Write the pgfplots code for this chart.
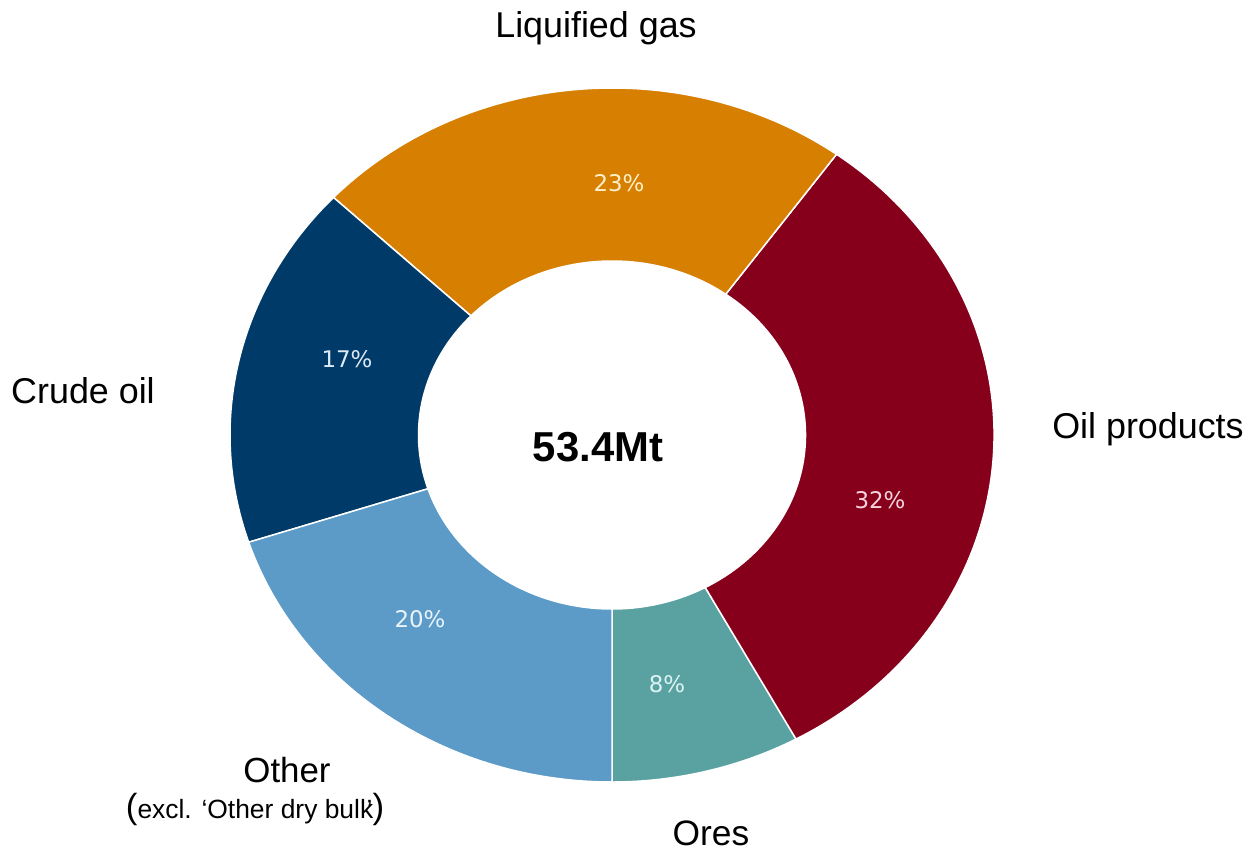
\documentclass[border=0pt]{standalone}
\usepackage{fontspec}
\setmainfont{Liberation Sans}
\newfontfamily\pctfont{DejaVu Sans}
\usepackage{pgfplots}
\usepackage{pgfplotstable}
\pgfplotsset{compat=1.18}

\definecolor{cOres}{RGB}{90,162,162}
\definecolor{cOil}{RGB}{134,0,28}
\definecolor{cGas}{RGB}{214,127,0}
\definecolor{cCrude}{RGB}{0,58,104}
\definecolor{cOther}{RGB}{92,154,200}
\definecolor{tOres}{RGB}{220,242,242}
\definecolor{tOil}{RGB}{246,212,222}
\definecolor{tGas}{RGB}{255,240,200}
\definecolor{tCrude}{RGB}{220,234,246}
\definecolor{tOther}{RGB}{232,244,250}

\newcommand\pctsize{\pctfont\fontsize{23}{26}\selectfont}
\newcommand\labsize{\fontsize{36}{40}\selectfont}

% share of each cargo group (%), with label positions (pixels)
\pgfplotstableread[col sep=comma]{
name,pct,col,tcol,px,py
Ores,8,cOres,tOres,667,692
Oil products,32,cOil,tOil,880,508
Liquified gas,23,cGas,tGas,619,192
Crude oil,17,cCrude,tCrude,347,367
Other,20,cOther,tOther,420,627
}\donutdata

\def\cx{612}\def\cy{435}
\def\Rx{382}\def\Ry{347}
\def\rx{193.5}\def\ry{174}

\begin{document}
\begin{tikzpicture}
\begin{axis}[scale only axis, width=1255bp, height=852bp,
  xmin=0, xmax=1255, ymin=0, ymax=852, y dir=reverse,
  hide axis, clip=false]
\path (axis cs:0,0) rectangle (axis cs:1255,852);
\pgfplotstablegetrowsof{\donutdata}
\pgfmathtruncatemacro{\lastrow}{\pgfplotsretval-1}
\xdef\cum{0}
\pgfplotsforeachungrouped \k in {0,...,\lastrow}{%
  \pgfplotstablegetelem{\k}{pct}\of{\donutdata}\let\pv=\pgfplotsretval
  \pgfplotstablegetelem{\k}{col}\of{\donutdata}\let\fc=\pgfplotsretval
  \pgfplotstablegetelem{\k}{tcol}\of{\donutdata}\let\tc=\pgfplotsretval
  \pgfplotstablegetelem{\k}{px}\of{\donutdata}\let\lx=\pgfplotsretval
  \pgfplotstablegetelem{\k}{py}\of{\donutdata}\let\ly=\pgfplotsretval
  \pgfmathsetmacro\angA{-90+3.6*\cum}%
  \pgfmathsetmacro\angB{-90+3.6*(\cum+\pv)}%
  \pgfmathsetmacro\xo{\cx+\Rx*cos(\angA)}%
  \pgfmathsetmacro\yo{\cy-\Ry*sin(\angA)}%
  \pgfmathsetmacro\xin{\cx+\rx*cos(\angB)}%
  \pgfmathsetmacro\yin{\cy-\ry*sin(\angB)}%
  \edef\mkwedge{\noexpand\filldraw[fill=\fc, draw=white, line width=1.5bp]
    (axis cs:\xo,\yo) arc[start angle=\angA, end angle=\angB, x radius=\Rx bp, y radius=\Ry bp]
    -- (axis cs:\xin,\yin) arc[start angle=\angB, end angle=\angA, x radius=\rx bp, y radius=\ry bp] -- cycle;
    \noexpand\node[anchor=base, inner sep=0pt, text=\tc, font=\noexpand\pctsize] at (axis cs:\lx,\ly) {\pv\noexpand\%};}%
  \mkwedge
  \pgfmathsetmacro\newcum{\cum+\pv}\xdef\cum{\newcum}%
}
\node[anchor=base, inner sep=0pt, font=\labsize] at (axis cs:596,38) {Liquified gas};
\node[anchor=base, inner sep=0pt, font=\labsize] at (axis cs:1148,438) {Oil products};
\node[anchor=base, inner sep=0pt, font=\labsize] at (axis cs:83,403) {Crude oil};
\node[anchor=base, inner sep=0pt, font=\fontsize{35}{40}\selectfont] at (axis cs:287,782) {Other};
\node[anchor=base, inner sep=0pt] at (axis cs:255,818) {{\fontsize{35}{36}\selectfont(}{\fontsize{26.5}{28}\selectfont excl. ‘Other dry bulk\kern-0.25em’}{\fontsize{35}{36}\selectfont)}};
\node[anchor=base, inner sep=0pt, font=\fontsize{35.5}{40}\selectfont] at (axis cs:711,845) {Ores};
\node[anchor=base, inner sep=0pt, font=\fontsize{42}{46}\selectfont\bfseries] at (axis cs:598,461) {53.4Mt};
\end{axis}
\end{tikzpicture}
\end{document}
